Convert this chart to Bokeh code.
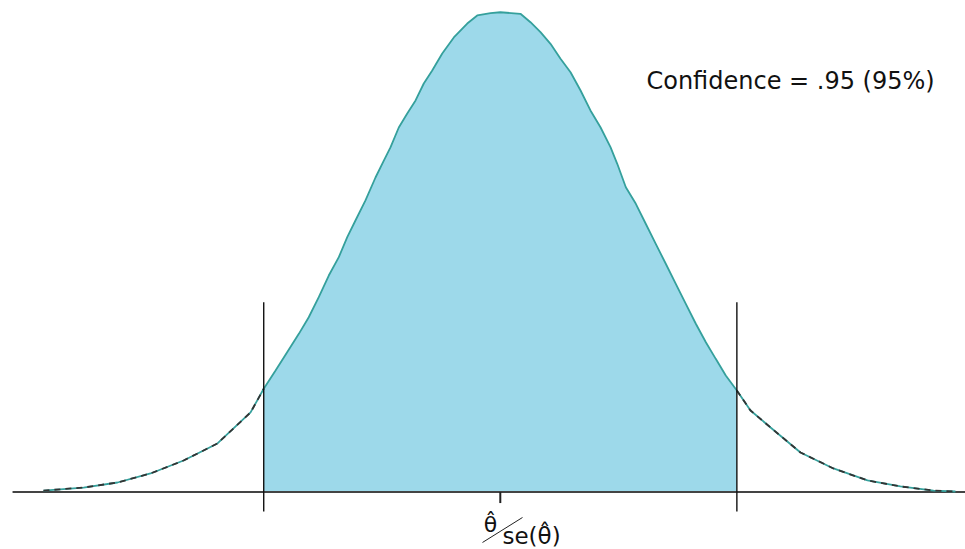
import numpy as np
from bokeh.plotting import figure
from bokeh.models import Range1d
from bokeh.embed import file_html
from bokeh.resources import INLINE
from bokeh.core.properties import value

# Curve (standardised statistic, density)
z_vals = [-3.785, -3.453, -3.171, -2.898, -2.624, -2.343, -2.069, -1.96,
          -1.862, -1.766, -1.669, -1.587, -1.504, -1.421, -1.338, -1.268, -1.200, -1.117,
          -1.034, -0.965, -0.910, -0.841, -0.771, -0.702, -0.634, -0.564, -0.481, -0.385,
          -0.274, -0.191, -0.081, 0.0,
          0.167, 0.250, 0.333, 0.416, 0.499, 0.582, 0.665, 0.747, 0.830, 0.913,
          0.969, 1.040, 1.123, 1.205, 1.288, 1.371, 1.454, 1.537, 1.620, 1.703,
          1.785, 1.868, 1.96,
          2.073, 2.239, 2.487, 2.760, 3.042, 3.315, 3.589, 3.771]
dens = [0.0012, 0.0037, 0.0079, 0.0154, 0.0262, 0.0404, 0.0662, 0.0859,
        0.1011, 0.1163, 0.1316, 0.1454, 0.1621, 0.1801, 0.1954, 0.2120, 0.2259, 0.2426,
        0.2617, 0.2758, 0.2867, 0.3033, 0.3149, 0.3258, 0.3399, 0.3507, 0.3649, 0.3782,
        0.3898, 0.3965, 0.3984, 0.3992,
        0.3979, 0.3909, 0.3826, 0.3729, 0.3605, 0.3493, 0.3341, 0.3175, 0.3035, 0.2869,
        0.2731, 0.2536, 0.2398, 0.2232, 0.2065, 0.1899, 0.1732, 0.1566, 0.1400, 0.1246,
        0.1108, 0.0969, 0.0845,
        0.0678, 0.0537, 0.0329, 0.0196, 0.0096, 0.0046, 0.0012, 0.0004]
crit = [-1.96, 1.96]
confidence_label = "Confidence = .95 (95%)"
stat_num = "θ\u0302"
stat_den = "se(θ\u0302)"

z = np.array(z_vals)
d = np.array(dens)

p = figure(width=965, height=549, output_backend="svg", toolbar_location=None,
           x_range=Range1d(-4.1408, 3.8542), y_range=Range1d(-0.04785, 0.40897),
           min_border=0, min_border_left=0, min_border_right=0,
           min_border_top=0, min_border_bottom=0)
p.axis.visible = False
p.grid.visible = False
p.outline_line_color = None
p.background_fill_color = "white"
p.border_fill_color = "white"

mask = (z >= crit[0]) & (z <= crit[1])
p.varea(x=z[mask], y1=np.zeros(mask.sum()), y2=d[mask], fill_color="#9dd9ea")

# baseline
p.segment(x0=[-4.041], y0=[0], x1=[3.9], y1=[0], line_color="#444444", line_width=2.2)
# centre tick
p.segment(x0=[0], y0=[0], x1=[0], y1=[-0.0092], line_color="#222222", line_width=2)

# curve
p.line(z, d, line_color="#35a09c", line_width=1.8)
left = z <= crit[0]
right = z >= crit[1]
p.line(z[left], d[left], line_color="#333333", line_width=1.8, line_dash="6 5")
p.line(z[right], d[right], line_color="#333333", line_width=1.8, line_dash="6 5")

# critical value lines
p.segment(x0=crit, y0=[0.1579, 0.1579], x1=crit, y1=[-0.0162, -0.0162],
          line_color="#111111", line_width=1.4)

p.text(x=[1.211], y=[0.3416], text=[confidence_label], text_font=value("DejaVu Sans"),
       text_font_size="24px", text_baseline="middle", text_align="left", text_color="#111111")

p.text(x=[-0.081], y=[-0.0270], text=[stat_num], text_font=value("DejaVu Sans"),
       text_font_size="22px", text_baseline="middle", text_align="center", text_color="#111111")
p.text(x=[0.018], y=[-0.0370], text=[stat_den], text_font=value("DejaVu Sans"),
       text_font_size="23px", text_baseline="middle", text_align="left", text_color="#111111")
p.segment(x0=[-0.1475], y0=[-0.0420], x1=[0.184], y1=[-0.0212], line_color="#222222", line_width=1)

open("out.html", "w").write(file_html(p, INLINE))
